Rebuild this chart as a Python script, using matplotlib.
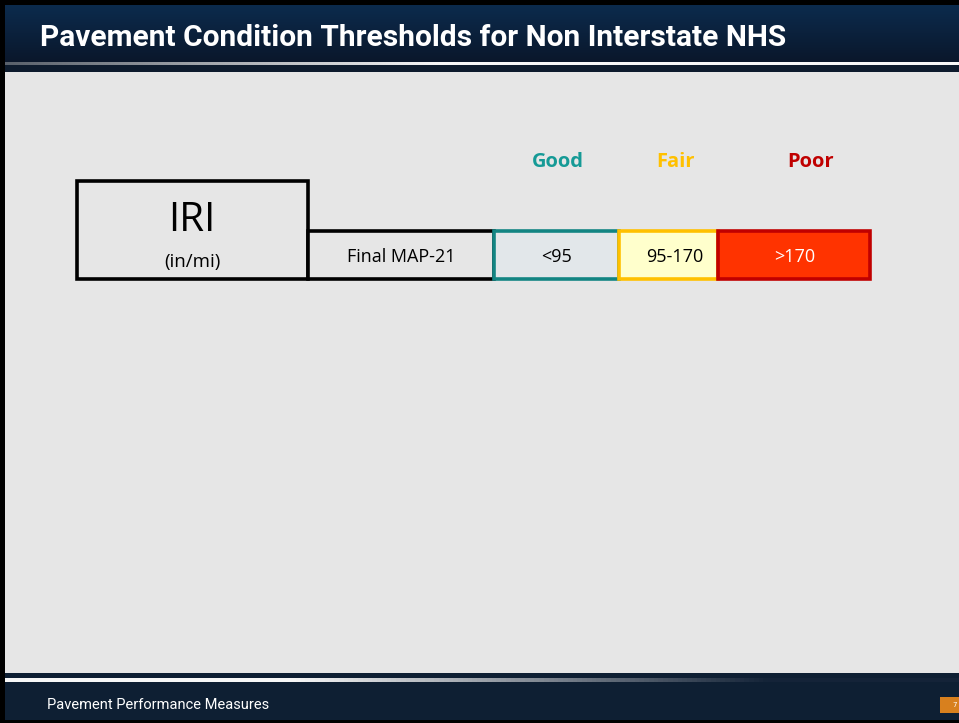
import numpy as np
import matplotlib.pyplot as plt
from matplotlib.patches import Rectangle

# Slide texts
title = "Pavement Condition Thresholds for Non Interstate NHS"
footer = "Pavement Performance Measures"
page = "7"

# Threshold table
metric = "IRI"
unit = "(in/mi)"
source = "Final MAP-21"
ratings = ["Good", "Fair", "Poor"]
thresholds = ["<95", "95-170", ">170"]
label_colors = ["#159a96", "#ffc000", "#c00000"]
face_colors = ["#e2e7ea", "#ffffcc", "#ff3300"]
edge_colors = ["#128583", "#ffc000", "#c00000"]
text_colors = ["black", "black", "white"]
cell_edges = [494, 619, 718, 870]   # x edges of rating cells (px)

W, H = 959, 723
fig = plt.figure(figsize=(W / 100, H / 100), dpi=100)
ax = fig.add_axes([0, 0, 1, 1])
ax.set_xlim(0, W)
ax.set_ylim(H, 0)
ax.axis('off')

# background / frame
ax.add_patch(Rectangle((0, 0), W, H, facecolor='black', zorder=0))
ax.add_patch(Rectangle((5, 72), W - 5, 601, facecolor='#e6e6e6', zorder=1))

# header gradient
grad = np.linspace(0, 1, 60)[:, None]
top = np.array([0x0c, 0x2b, 0x4d]) / 255
bot = np.array([0x0a, 0x17, 0x2b]) / 255
img = top * (1 - grad[..., None]) + bot * grad[..., None]
img = np.repeat(img, 2, axis=1)
ax.imshow(img, extent=[5, W, 62, 5], aspect='auto', zorder=1)
ax.add_patch(Rectangle((5, 65), W - 5, 7, facecolor='#0d1b2d', zorder=1))
# header highlight line (dark left -> white right)
hl = np.linspace(0, 1, 200)
hl = np.clip(hl * 2.2, 0, 1)
hcol = np.array([0.35, 0.38, 0.42]) * (1 - hl[:, None]) + np.array([0.97, 0.97, 0.97]) * hl[:, None]
ax.imshow(hcol[None, :, :], extent=[5, W, 65, 62], aspect='auto', zorder=2)

# footer
ax.add_patch(Rectangle((5, 673), W - 5, 47, facecolor='#0e1f33', zorder=1))
fl = np.linspace(0, 1, 200)
fl = np.clip((fl - 0.3) / 0.5, 0, 1)
fcol = np.array([0.97, 0.97, 0.97]) * (1 - fl[:, None]) + np.array([0.08, 0.14, 0.22]) * fl[:, None]
ax.imshow(fcol[None, :, :], extent=[5, W, 682, 678], aspect='auto', zorder=2)
ax.add_patch(Rectangle((940, 697), 19, 16, facecolor='#d8801e', zorder=2))

ax.text(40, 38, title, color='white', fontsize=21.5, fontweight='bold',
        family='Roboto', ha='left', va='center', zorder=3)
ax.text(47, 705, footer, color='white', fontsize=10.5, family='Roboto',
        ha='left', va='center', zorder=3)
ax.text(955, 705, page, color='white', fontsize=5, ha='center', va='center', zorder=3)

# metric boxes
lw = 2.6
ax.add_patch(Rectangle((77, 181), 231, 98, facecolor='#e6e6e6', edgecolor='black', lw=lw, zorder=3))
ax.text(192, 221, metric, fontsize=29, family='Open Sans', ha='center', va='center', zorder=4)
ax.text(192, 262, unit, fontsize=13.5, family='Open Sans', ha='center', va='center', zorder=4)
ax.add_patch(Rectangle((308, 231), cell_edges[0] - 308, 48, facecolor='#e6e6e6',
                       edgecolor='black', lw=lw, zorder=3))
ax.text((308 + cell_edges[0]) / 2, 257, source, fontsize=13, family='Open Sans',
        ha='center', va='center', zorder=4)

for i, (r, t) in enumerate(zip(ratings, thresholds)):
    x0, x1 = cell_edges[i], cell_edges[i + 1]
    ax.add_patch(Rectangle((x0, 231), x1 - x0, 48, facecolor=face_colors[i],
                           edgecolor=edge_colors[i], lw=lw, zorder=3 + i * 0.1))
    ax.text((x0 + x1) / 2 + [0, 6, 1][i], 257, t, fontsize=13, family='Open Sans',
            color=text_colors[i], ha='center', va='center', zorder=5)
    ax.text((x0 + x1) / 2 + [1, 7, 17][i], 162, r, fontsize=14.5, fontweight='bold',
            family='Open Sans', color=label_colors[i], ha='center', va='center', zorder=5)

fig.savefig('out.png', dpi=100)
